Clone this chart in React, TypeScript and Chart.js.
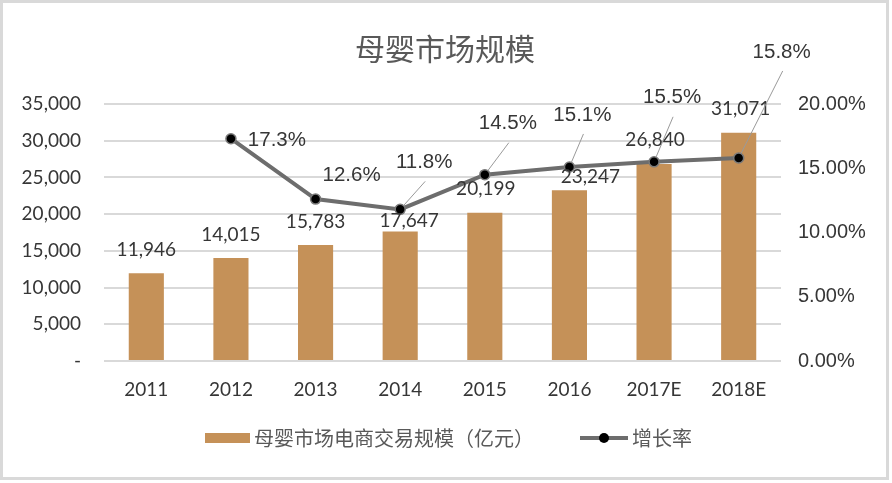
import React, { useEffect, useRef } from "react";
import { Chart, registerables } from "chart.js";

Chart.register(...registerables);

const categories = ["2011", "2012", "2013", "2014", "2015", "2016", "2017E", "2018E"];
const marketSize = [11946, 14015, 15783, 17647, 20199, 23247, 26840, 31071];
const growthRate = [null, 17.3, 12.6, 11.8, 14.5, 15.1, 15.5, 15.8];
const leftTicks = [0, 5000, 10000, 15000, 20000, 25000, 30000, 35000];
const rightTicks = [0, 5, 10, 15, 20];

const chartTitle = "母婴市场规模";
const barSeriesName = "母婴市场电商交易规模（亿元）";
const lineSeriesName = "增长率";

// label placement (style only): offsets from the mark, in px
const barLabelOffsets = [
  [0, -23], [0, -23], [0, -23], [9, -11], [1, -24], [21, -13], [1, -24], [2, -24],
];
const rateLabelOffsets = [
  [0, 0], [46, 2], [36, -24], [24, -47], [23, -51], [13, -52], [18, -64], [43, -106],
];
const rateLeader = [false, false, false, true, true, true, true, true];

const BAR_COLOR = "#c59158";
const LINE_COLOR = "#6d6d6d";
const TEXT_COLOR = "#363636";
const CJK = '"Noto Sans CJK SC", "Noto Sans", sans-serif';

const fmtThousands = (v: number) => v.toLocaleString("en-US");

const decorPlugin = {
  id: "decor",
  beforeDraw(chart: any) {
    const { ctx, width, height } = chart;
    ctx.save();
    ctx.fillStyle = "#ffffff";
    ctx.fillRect(0, 0, width, height);
    ctx.restore();
  },
  afterDatasetsDraw(chart: any) {
    const { ctx } = chart;
    ctx.save();
    // bar value labels
    const barMeta = chart.getDatasetMeta(0);
    ctx.font = "19px Lato";
    ctx.fillStyle = TEXT_COLOR;
    ctx.textAlign = "center";
    ctx.textBaseline = "middle";
    barMeta.data.forEach((el: any, i: number) => {
      const [dx, dy] = barLabelOffsets[i];
      ctx.fillText(fmtThousands(marketSize[i]), el.x + dx, el.y + dy);
    });
    // rate labels
    const lineMeta = chart.getDatasetMeta(1);
    ctx.font = '20.5px "Liberation Sans"';
    lineMeta.data.forEach((el: any, i: number) => {
      const v = growthRate[i];
      if (v === null || v === undefined) return;
      const [dx, dy] = rateLabelOffsets[i];
      const lx = el.x + dx;
      const ly = el.y + dy;
      if (rateLeader[i]) {
        const sx = lx + 1;
        const sy = ly + 19;
        const vx = sx - el.x;
        const vy = sy - el.y;
        const len = Math.hypot(vx, vy);
        const ex = el.x + (vx / len) * 5;
        const ey = el.y + (vy / len) * 5;
        ctx.strokeStyle = "#9a9a9a";
        ctx.lineWidth = 1;
        ctx.beginPath();
        ctx.moveTo(sx, sy);
        ctx.lineTo(ex, ey);
        ctx.stroke();
      }
      ctx.fillStyle = TEXT_COLOR;
      ctx.fillText(v.toFixed(1) + "%", lx, ly);
    });
    ctx.restore();
  },
  afterDraw(chart: any) {
    const { ctx, width, height } = chart;
    ctx.save();
    // title
    ctx.font = `30px ${CJK}`;
    ctx.fillStyle = "#595959";
    ctx.textAlign = "center";
    ctx.textBaseline = "middle";
    ctx.fillText(chartTitle, 445, 49);

    // legend
    ctx.font = `20px ${CJK}`;
    ctx.textAlign = "left";
    ctx.fillStyle = BAR_COLOR;
    ctx.fillRect(205, 433, 45, 10);
    ctx.fillStyle = "#595959";
    ctx.fillText(barSeriesName, 254, 438);

    ctx.strokeStyle = LINE_COLOR;
    ctx.lineWidth = 4;
    ctx.beginPath();
    ctx.moveTo(580, 438);
    ctx.lineTo(628, 438);
    ctx.stroke();
    ctx.beginPath();
    ctx.arc(604, 438, 5, 0, Math.PI * 2);
    ctx.fillStyle = "#000000";
    ctx.fill();
    ctx.fillStyle = "#595959";
    ctx.fillText(lineSeriesName, 632, 438);

    // outer frame
    ctx.strokeStyle = "#d9d9d9";
    ctx.lineWidth = 3;
    ctx.strokeRect(1.5, 1.5, width - 6, height - 6);
    ctx.restore();
  },
};

export default function App() {
  const ref = useRef<HTMLCanvasElement | null>(null);

  useEffect(() => {
    if (!ref.current) return;
    const chart = new Chart(ref.current, {
      type: "bar",
      data: {
        labels: categories,
        datasets: [
          {
            type: "bar",
            label: barSeriesName,
            data: marketSize,
            backgroundColor: BAR_COLOR,
            yAxisID: "y",
            order: 1,
            categoryPercentage: 0.83,
            barPercentage: 0.5,
          },
          {
            type: "line",
            label: lineSeriesName,
            data: growthRate as any,
            yAxisID: "y1",
            order: 0,
            borderColor: LINE_COLOR,
            borderWidth: 4,
            pointRadius: 5,
            pointBackgroundColor: "#000000",
            pointBorderColor: "#7a7a7a",
            pointBorderWidth: 1.5,
            tension: 0,
            spanGaps: false,
          },
        ],
      },
      options: {
        responsive: false,
        animation: false,
        layout: { padding: { top: 104, left: 0, right: 0, bottom: 0 } },
        plugins: {
          legend: { display: false },
          title: { display: false },
          tooltip: { enabled: false },
        },
        scales: {
          x: {
            grid: { display: false, drawTicks: false },
            border: { display: false },
            ticks: {
              color: TEXT_COLOR,
              font: { family: "Lato", size: 19 },
              padding: 17,
            },
            afterFit: (s: any) => {
              s.height = 122;
            },
          },
          y: {
            position: "left",
            min: 0,
            max: 35000,
            afterBuildTicks: (s: any) => {
              s.ticks = leftTicks.map((v) => ({ value: v }));
            },
            ticks: {
              color: TEXT_COLOR,
              font: { family: "Lato", size: 19 },
              padding: 23,
              callback: (v: any) => (Number(v) === 0 ? "-" : fmtThousands(Number(v))),
            },
            grid: { color: "#d9d9d9", lineWidth: 2, drawTicks: false },
            border: { display: false },
            afterFit: (s: any) => {
              s.width = 104;
            },
          },
          y1: {
            position: "right",
            min: 0,
            max: 20,
            afterBuildTicks: (s: any) => {
              s.ticks = rightTicks.map((v) => ({ value: v }));
            },
            ticks: {
              color: TEXT_COLOR,
              font: { family: "Liberation Sans", size: 20 },
              padding: 17,
              callback: (v: any) => Number(v).toFixed(2) + "%",
            },
            grid: { display: false, drawTicks: false },
            border: { display: false },
            afterFit: (s: any) => {
              s.width = 111;
            },
          },
        },
      } as any,
      plugins: [decorPlugin],
    });
    return () => chart.destroy();
  }, []);

  return (
    <div style={{ position: "fixed", left: 0, top: 0, width: 892, height: 483, background: "#fff" }}>
      <canvas ref={ref} width={892} height={483} />
    </div>
  );
}
